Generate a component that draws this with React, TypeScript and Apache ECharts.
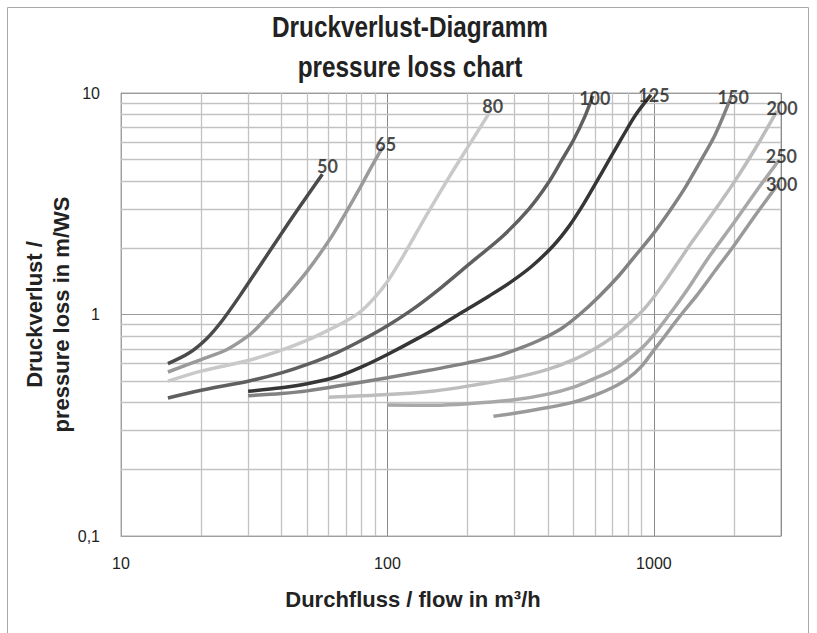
import React, { useEffect, useRef } from "react";
import * as echarts from "echarts";

// Flow [m³/h] vs pressure loss [m WS] per nominal size
const dn50 = [[15, 0.6], [18, 0.67], [21, 0.78], [24, 0.94], [28, 1.22], [34, 1.73], [44, 2.75], [57, 4.3]];
const dn65 = [[15, 0.55], [20, 0.626], [25, 0.695], [30, 0.8], [33, 0.89], [37, 1.03], [42, 1.22], [50, 1.57], [61, 2.2], [70, 2.9], [80, 3.85], [88, 4.75], [96, 5.7]];
const dn80 = [[15, 0.5], [20, 0.555], [30, 0.62], [40, 0.69], [50, 0.766], [60, 0.85], [70, 0.935], [80, 1.04], [90, 1.2], [100, 1.41], [115, 1.85], [140, 2.8], [170, 4.15], [205, 5.95], [242, 8.2]];
const dn100 = [[15, 0.42], [20, 0.455], [30, 0.5], [40, 0.545], [50, 0.595], [65, 0.675], [80, 0.765], [100, 0.89], [125, 1.06], [160, 1.33], [210, 1.75], [270, 2.25], [340, 3.0], [400, 3.9], [450, 4.95], [500, 6.15], [550, 7.8], [590, 9.7]];
const dn125 = [[30, 0.45], [40, 0.467], [50, 0.487], [65, 0.525], [80, 0.58], [100, 0.66], [130, 0.78], [160, 0.9], [195, 1.04], [240, 1.21], [290, 1.4], [350, 1.66], [420, 2.05], [480, 2.5], [540, 3.1], [600, 3.85], [680, 5.0], [760, 6.3], [850, 7.9], [975, 9.8]];
const dn150 = [[30, 0.43], [40, 0.44], [50, 0.452], [70, 0.482], [100, 0.518], [140, 0.557], [200, 0.605], [260, 0.65], [320, 0.71], [380, 0.775], [450, 0.865], [526, 1.0], [620, 1.2], [740, 1.5], [870, 1.9], [991, 2.3], [1150, 2.95], [1321, 3.8], [1500, 4.95], [1700, 6.5], [1950, 9.6]];
const dn200 = [[60, 0.423], [100, 0.435], [150, 0.452], [200, 0.475], [300, 0.518], [400, 0.565], [500, 0.625], [600, 0.7], [700, 0.79], [800, 0.9], [900, 1.03], [1000, 1.2], [1150, 1.52], [1400, 2.15], [1700, 2.98], [2000, 3.95], [2400, 5.6], [2900, 8.3]];
const dn250 = [[100, 0.39], [150, 0.389], [200, 0.395], [300, 0.412], [400, 0.437], [500, 0.47], [600, 0.515], [700, 0.56], [800, 0.625], [900, 0.705], [1000, 0.81], [1100, 0.94], [1200, 1.08], [1350, 1.32], [1600, 1.8], [2000, 2.6], [2500, 3.8], [2958, 5.0]];
const dn300 = [[250, 0.347], [300, 0.358], [400, 0.38], [500, 0.402], [600, 0.432], [700, 0.468], [800, 0.515], [900, 0.585], [1000, 0.69], [1100, 0.8], [1200, 0.92], [1300, 1.04], [1450, 1.22], [1700, 1.58], [2000, 2.05], [2400, 2.8], [2917, 3.85]];

const sizeNames = ["50", "65", "80", "100", "125", "150", "200", "250", "300"];
const sizeData = [dn50, dn65, dn80, dn100, dn125, dn150, dn200, dn250, dn300];

// texts
const titleLines = ["Druckverlust-Diagramm", "pressure loss chart"];
const xAxisTitle = "Durchfluss / flow in m³/h";
const yAxisTitle = "Druckverlust /\npressure loss in m/WS";

// grid / tick values
const flowRange = [10, 3000];
const lossRange = [0.1, 10];
const minorFlowTicks = [20, 30, 40, 50, 60, 70, 80, 90, 200, 300, 400, 500, 600, 700, 800, 900, 2000];
const minorLossTicks = [0.2, 0.3, 0.4, 0.5, 0.6, 0.7, 0.8, 0.9, 2, 3, 4, 5, 6, 7, 8, 9];

// styles
const sizeColors = ["#4a4a4a", "#9a9a9a", "#c9c9c9", "#5f5f5f", "#363636", "#828282", "#bdbdbd", "#a8a8a8", "#9a9a9a"];
const labelOffsets = [[5, -8], [3, -3], [3, -6], [2, 2], [3, 0], [2, 0], [5, -3], [2, -4], [4, -1]];

const FONT = "'Liberation Sans', Arial, sans-serif";

function buildOption() {
  const curveSeries = sizeData.map((d, i) => ({
    type: "line",
    name: "DN" + sizeNames[i],
    data: d,
    smooth: 0.3,
    showSymbol: false,
    symbol: "none",
    z: 5,
    lineStyle: { color: sizeColors[i], width: 3.5 },
    itemStyle: { color: sizeColors[i] },
  }));

  const gridSeries = {
    type: "line",
    name: "grid",
    data: [[flowRange[0], lossRange[0]]],
    symbol: "none",
    lineStyle: { opacity: 0 },
    z: 1,
    silent: true,
    markLine: {
      silent: true,
      symbol: ["none", "none"],
      label: { show: false },
      animation: false,
      lineStyle: { color: "#c2c2c2", width: 1.3, type: "solid" },
      emphasis: { disabled: true },
      data: [
        ...minorFlowTicks.map((v) => ({ xAxis: v })),
        ...minorLossTicks.map((v) => ({ yAxis: v })),
      ],
    },
  };

  const labelSeries = {
    type: "scatter",
    name: "labels",
    symbolSize: 1,
    itemStyle: { color: "rgba(0,0,0,0)" },
    clip: false,
    z: 6,
    silent: true,
    data: sizeData.map((d, i) => ({
      name: sizeNames[i],
      value: d[d.length - 1],
      label: { offset: labelOffsets[i] },
    })),
    label: {
      show: true,
      position: "inside",
      formatter: "{b}",
      fontFamily: "Lato, 'Open Sans', sans-serif",
      fontWeight: "bold",
      fontSize: 18,
      color: "#1a1a1a",
    },
  };

  const titleStyle = {
    fontFamily: FONT,
    fontWeight: "bold",
    fontSize: 29,
    fill: "#222",
    align: "center",
    verticalAlign: "middle",
  };

  return {
    animation: false,
    backgroundColor: "#ffffff",
    graphic: [
      {
        type: "rect",
        shape: { x: 7.5, y: 7.5, width: 801, height: 660 },
        style: { fill: "none", stroke: "#a8a8a8", lineWidth: 1 },
        silent: true,
        z: -1,
      },
      {
        type: "text",
        x: 410,
        y: 27,
        scaleX: 0.84,
        silent: true,
        style: { ...titleStyle, text: titleLines[0] },
      },
      {
        type: "text",
        x: 410,
        y: 67,
        scaleX: 0.84,
        silent: true,
        style: { ...titleStyle, text: titleLines[1] },
      },
    ],
    grid: {
      left: 121,
      right: 36,
      top: 93,
      bottom: 97,
      show: true,
      borderColor: "#a8a8a8",
      borderWidth: 1,
    },
    xAxis: {
      type: "log",
      logBase: 10,
      min: flowRange[0],
      max: flowRange[1],
      name: xAxisTitle,
      nameLocation: "middle",
      nameGap: 52,
      nameTextStyle: {
        fontFamily: FONT,
        fontWeight: "bold",
        fontSize: 22,
        color: "#222",
        padding: [0, 76, 0, 0],
      },
      axisLine: { show: true, lineStyle: { color: "#a0a0a0" } },
      axisTick: { show: false },
      axisLabel: {
        fontFamily: FONT,
        fontSize: 16,
        color: "#222",
        margin: 19,
        showMaxLabel: false,
        formatter: (v: number) => String(Math.round(v)),
      },
      splitLine: { show: true, lineStyle: { color: "#8a8a8a", width: 1 } },
    },
    yAxis: {
      type: "log",
      logBase: 10,
      min: lossRange[0],
      max: lossRange[1],
      name: yAxisTitle,
      nameLocation: "middle",
      nameRotate: 90,
      nameGap: 46,
      nameMoveOverlap: false,
      nameTextStyle: { fontFamily: FONT, fontWeight: "bold", fontSize: 22, lineHeight: 27, color: "#222" },
      axisLine: { show: true, lineStyle: { color: "#a0a0a0" } },
      axisTick: { show: false },
      axisLabel: {
        fontFamily: FONT,
        fontSize: 16,
        color: "#222",
        margin: 21,
        formatter: (v: number) => String(v).replace(".", ","),
      },
      splitLine: { show: true, lineStyle: { color: "#9a9a9a", width: 1 } },
    },
    series: [gridSeries, ...curveSeries, labelSeries],
  };
}

export default function App() {
  const ref = useRef<HTMLDivElement>(null);
  useEffect(() => {
    document.body.style.margin = "0";
    if (!ref.current) return;
    const chart = echarts.init(ref.current, null, { renderer: "svg" });
    chart.setOption(buildOption() as any);
    return () => chart.dispose();
  }, []);
  return <div ref={ref} style={{ width: 817, height: 633 }} />;
}
